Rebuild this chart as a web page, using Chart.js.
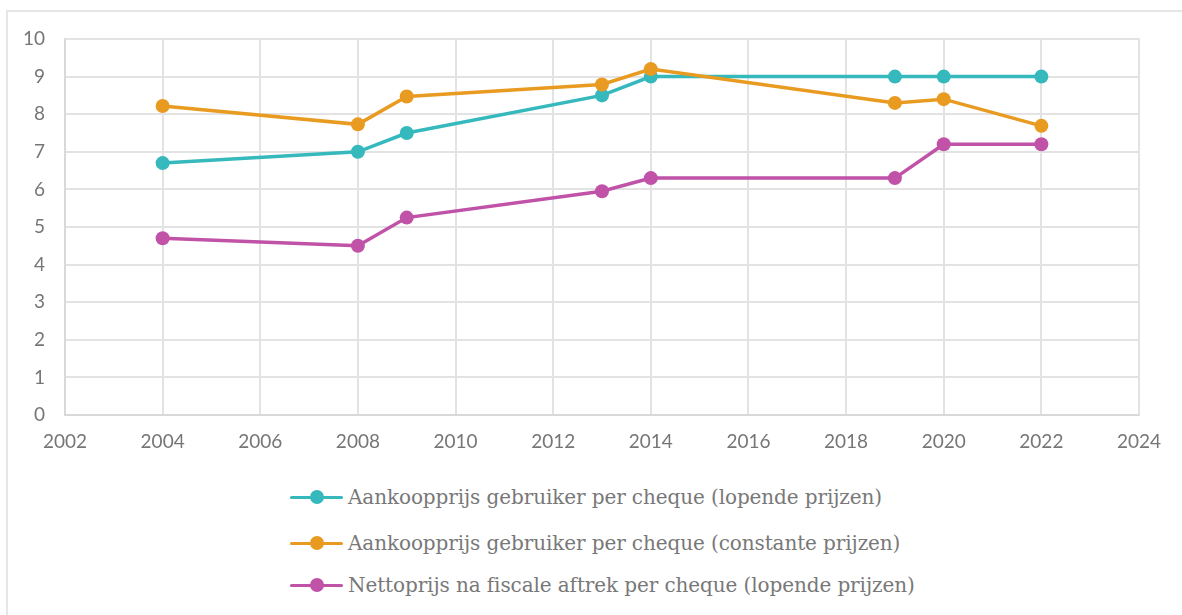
<!DOCTYPE html>
<html>
<head>
<meta charset="utf-8">
<script src="https://cdn.jsdelivr.net/npm/chart.js@4.4.0/dist/chart.umd.min.js"></script>
<style>
  html, body { margin: 0; padding: 0; background: #fff; }
  #wrap { position: relative; width: 1182px; height: 615px; overflow: hidden; }
  #frame { position: absolute; left: 6px; top: 10px; width: 1180px; height: 620px;
           border-left: 2px solid #e6e6e6; border-top: 2px solid #e6e6e6; box-sizing: border-box; }
  #cv { position: absolute; left: 0; top: 0; }
  #legend { position: absolute; left: 290px; top: 0; }
  .item { position: absolute; left: 0; white-space: nowrap; height: 30px; display: flex; align-items: center; }
  .mk { position: relative; width: 53px; height: 16px; margin-right: 5px; flex: none; }
  .mk .ln { position: absolute; left: 0; right: 0; top: 6.5px; height: 3px; border-radius: 2px; }
  .mk .dt { position: absolute; left: 19.5px; top: 1px; width: 14px; height: 14px; border-radius: 50%; }
  .txt { font-family: "DejaVu Serif", serif; font-size: 20px; color: #787878; letter-spacing: -0.1px; }
</style>
</head>
<body>
<div id="wrap">
  <div id="frame"></div>
  <canvas id="cv" width="1182" height="470"></canvas>
  <div id="legend"></div>
</div>
<script>
const years = [2004, 2008, 2009, 2013, 2014, 2019, 2020, 2022];
const seriesNames = [
  "Aankoopprijs gebruiker per cheque (lopende prijzen)",
  "Aankoopprijs gebruiker per cheque (constante prijzen)",
  "Nettoprijs na fiscale aftrek per cheque (lopende prijzen)"
];
const lopende   = [6.7, 7.0, 7.5, 8.5, 9.0, 9.0, 9.0, 9.0];
const constante = [8.22, 7.73, 8.47, 8.79, 9.2, 8.3, 8.4, 7.69];
const netto     = [4.7, 4.5, 5.25, 5.95, 6.3, 6.3, 7.2, 7.2];
const colors = ["#35B9BD", "#E89B20", "#C052A8"];
const xTicks = [2002, 2004, 2006, 2008, 2010, 2012, 2014, 2016, 2018, 2020, 2022, 2024];
const yTicks = [0, 1, 2, 3, 4, 5, 6, 7, 8, 9, 10];

const allSeries = [lopende, constante, netto];
const datasets = allSeries.map((vals, i) => ({
  label: seriesNames[i],
  data: years.map((y, k) => ({ x: y, y: vals[k] })),
  borderColor: colors[i],
  backgroundColor: colors[i],
  borderWidth: 3.5,
  pointRadius: 7,
  pointHoverRadius: 7,
  pointBorderWidth: 0,
  tension: 0,
  order: 2 - i
}));

const tickFont = { family: "Lato, 'Open Sans', sans-serif", size: 19 };

new Chart(document.getElementById('cv'), {
  type: 'line',
  data: { datasets },
  options: {
    responsive: false,
    animation: false,
    layout: { padding: { top: 39, right: 43, left: 0, bottom: 0 } },
    plugins: { legend: { display: false }, tooltip: { enabled: false } },
    scales: {
      x: {
        type: 'linear',
        min: xTicks[0], max: xTicks[xTicks.length - 1],
        afterBuildTicks: (s) => { s.ticks = xTicks.map(v => ({ value: v })); },
        afterFit: (s) => { s.height = 55; },
        ticks: { font: tickFont, color: '#767676', padding: 15, maxRotation: 0, callback: v => String(v) },
        grid: { color: '#e3e3e3', lineWidth: 2, drawTicks: false },
        border: { color: '#d9d9d9', width: 2 }
      },
      y: {
        min: 0, max: 10,
        afterBuildTicks: (s) => { s.ticks = yTicks.map(v => ({ value: v })); },
        afterFit: (s) => { s.width = 65; },
        ticks: { font: tickFont, color: '#767676', padding: 20, callback: v => String(v) },
        grid: { color: '#e3e3e3', lineWidth: 2, drawTicks: false },
        border: { color: '#d9d9d9', width: 2 }
      }
    }
  },
  plugins: [{
    id: 'rightTopFrame',
    afterDraw(chart) {
      const { ctx, chartArea: a } = chart;
      ctx.save();
      ctx.strokeStyle = '#e3e3e3';
      ctx.lineWidth = 2;
      ctx.beginPath();
      ctx.moveTo(a.left, a.top); ctx.lineTo(a.right, a.top); ctx.lineTo(a.right, a.bottom);
      ctx.stroke();
      ctx.restore();
    }
  }]
});

const legendTops = [497, 543, 585];
const lg = document.getElementById('legend');
seriesNames.forEach((name, i) => {
  const it = document.createElement('div');
  it.className = 'item';
  it.style.top = (legendTops[i] - 15) + 'px';
  it.innerHTML = '<div class="mk"><div class="ln" style="background:' + colors[i] + '"></div><div class="dt" style="background:' + colors[i] + '"></div></div><span class="txt"></span>';
  it.querySelector('.txt').textContent = name;
  lg.appendChild(it);
});
</script>
</body>
</html>
